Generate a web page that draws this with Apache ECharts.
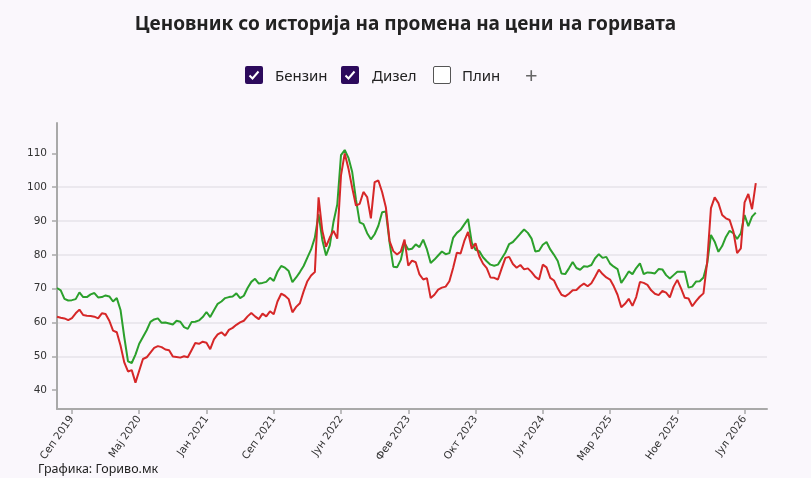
<!DOCTYPE html>
<html>
<head>
<meta charset="utf-8">
<title>Ценовник со историја на промена на цени на горивата</title>
<script src="https://cdn.jsdelivr.net/npm/echarts@6/dist/echarts.min.js"></script>
<style>
  html, body { margin: 0; padding: 0; background: #faf7fc; }
  #wrap { position: relative; width: 811px; height: 478px; overflow: hidden; }
  #chart { position: absolute; left: 0; top: 0; width: 811px; height: 478px; }
  .lg { position: absolute; font-family: 'Noto Sans', sans-serif; font-size: 15px; color: #222; line-height: 18px; cursor: pointer; user-select: none; }
  .box { position: absolute; top: 66px; width: 18px; height: 18px; box-sizing: border-box; border-radius: 2px; cursor: pointer; }
  .box.on { background: #2c0a5c; border: 2px solid #2c0a5c; }
  .box.off { background: #fff; border: 1.5px solid #555; }
  .box svg { display: block; }
</style>
</head>
<body>
<div id="wrap">
  <div id="chart"></div>
  <div class="box on" data-name="Бензин" style="left:245px"><svg width="14" height="14" viewBox="0 0 14 14"><polyline points="2.5,7.5 5.5,10.5 11.5,3.5" fill="none" stroke="#fff" stroke-width="2"/></svg></div>
  <div class="lg" data-name="Бензин" style="left:275px; top:66px">Бензин</div>
  <div class="box on" data-name="Дизел" style="left:341px"><svg width="14" height="14" viewBox="0 0 14 14"><polyline points="2.5,7.5 5.5,10.5 11.5,3.5" fill="none" stroke="#fff" stroke-width="2"/></svg></div>
  <div class="lg" data-name="Дизел" style="left:372px; top:66px">Дизел</div>
  <div class="box off" style="left:433px"></div>
  <div class="lg" style="left:462px; top:66px">Плин</div>
  <div class="lg" style="left:525px; top:63px; font-size:22px; color:#666; line-height:22px">+</div>
</div>
<script>
// оски
const tickLabels = ['Сеп 2019', 'Мај 2020', 'Јан 2021', 'Сеп 2021', 'Јун 2022', 'Фев 2023', 'Окт 2023', 'Јун 2024', 'Мар 2025', 'Ное 2025', 'Јул 2026']
const firstTick = 4
const tickStep = 18
const slotCount = 191
const yTicks = [40, 50, 60, 70, 80, 90, 100, 110]

// цени (ден/л)
const benzin = [
  70.2, 69.5, 67.0, 66.5, 66.6, 66.9, 68.9, 67.5, 67.5, 68.3,
  68.7, 67.4, 67.5, 68.0, 67.7, 66.2, 67.2, 63.7, 55.7, 48.5,
  48.0, 50.5, 53.7, 55.7, 57.7, 60.2, 60.9, 61.2, 59.9, 60.0,
  59.7, 59.4, 60.5, 60.2, 58.6, 58.1, 60.1, 60.2, 60.6, 61.6,
  63.1, 61.6, 63.6, 65.5, 66.2, 67.2, 67.5, 67.7, 68.6, 67.2,
  67.9, 70.2, 72.0, 72.9, 71.5, 71.7, 72.0, 73.2, 72.3, 75.0,
  76.7, 76.2, 75.2, 71.9, 73.3, 74.9, 76.7, 79.2, 81.6, 85.1,
  92.0, 84.4, 79.8, 82.8, 89.8, 94.9, 109.5, 111.0, 108.7, 104.5,
  96.4, 89.6, 89.1, 86.4, 84.6, 86.1, 88.6, 92.6, 92.8, 83.6,
  76.5, 76.3, 78.5, 83.5, 81.6, 81.8, 83.1, 82.3, 84.5, 81.6,
  77.6, 78.6, 79.8, 81.0, 80.2, 80.5, 85.0, 86.5, 87.4, 89.0,
  90.6, 83.6, 81.5, 81.1, 79.3, 78.1, 77.1, 76.8, 77.1, 78.9,
  80.7, 83.2, 83.8, 85.0, 86.3, 87.5, 86.5, 84.8, 81.0, 81.2,
  83.0, 83.8, 81.6, 80.0, 78.2, 74.5, 74.3, 76.0, 77.9, 76.1,
  75.6, 76.6, 76.5, 77.0, 79.0, 80.2, 79.1, 79.4, 77.4, 76.5,
  75.8, 71.7, 73.3, 75.1, 74.3, 76.1, 77.5, 74.3, 74.8, 74.7,
  74.5, 75.8, 75.7, 74.0, 73.0, 74.0, 75.0, 75.0, 75.0, 70.3,
  70.6, 72.1, 72.2, 73.3, 77.5, 85.9, 83.9, 80.9, 82.6, 85.3,
  87.1, 86.4, 84.7, 86.4, 91.8, 88.5, 91.3, 92.5,
]
const dizel = [
  61.7, 61.4, 61.2, 60.7, 61.3, 62.7, 63.8, 62.2, 62.0, 61.9,
  61.7, 61.2, 62.7, 62.5, 60.5, 57.6, 57.1, 53.2, 48.2, 45.5,
  45.9, 42.2, 45.7, 49.2, 49.7, 51.1, 52.5, 53.0, 52.7, 52.0,
  51.8, 49.9, 49.8, 49.6, 50.0, 49.7, 51.8, 53.9, 53.7, 54.3,
  54.0, 52.1, 55.0, 56.5, 57.1, 56.1, 57.8, 58.4, 59.3, 60.0,
  60.5, 61.8, 62.8, 61.8, 61.0, 62.6, 61.8, 63.3, 62.4, 66.2,
  68.5, 67.9, 66.9, 63.0, 64.6, 65.7, 69.2, 72.2, 73.9, 74.9,
  97.0, 87.1, 82.4, 85.1, 87.1, 84.8, 103.5, 110.0, 105.5, 99.8,
  94.6, 95.1, 98.6, 97.1, 90.8, 101.5, 102.0, 98.6, 94.1, 84.1,
  81.1, 80.1, 81.0, 84.5, 76.8, 78.3, 77.8, 74.2, 72.7, 73.1,
  67.2, 68.2, 69.7, 70.3, 70.6, 72.2, 76.1, 80.6, 80.4, 84.1,
  86.8, 81.8, 83.4, 79.6, 77.4, 76.1, 73.3, 73.2, 72.7, 76.0,
  79.1, 79.4, 77.3, 76.2, 77.0, 75.7, 76.0, 74.9, 73.5, 72.7,
  77.1, 76.3, 73.2, 72.4, 70.1, 68.2, 67.7, 68.5, 69.5, 69.6,
  70.7, 71.5, 70.7, 71.6, 73.5, 75.6, 74.3, 73.3, 72.7, 70.7,
  68.2, 64.5, 65.5, 67.0, 64.9, 67.5, 72.0, 71.7, 71.1, 69.5,
  68.5, 68.1, 69.3, 68.8, 67.4, 70.6, 72.6, 70.1, 67.3, 67.1,
  64.8, 66.3, 67.6, 68.6, 78.0, 93.8, 97.0, 95.3, 91.8, 90.8,
  90.3, 86.9, 80.5, 81.9, 95.5, 98.0, 93.5, 101.2,
]

const slots = Array.from({ length: slotCount }, (_, i) => i)
const isTick = i => i >= firstTick && (i - firstTick) % tickStep === 0

const font = "'DejaVu Sans', Verdana, sans-serif"
const chart = echarts.init(document.getElementById('chart'), null, { renderer: 'canvas' })

chart.setOption({
  backgroundColor: '#faf7fc',
  animation: false,
  title: {
    text: 'Ценовник со историја на промена на цени на горивата',
    left: 'center',
    top: 10,
    textStyle: { fontFamily: 'Noto Sans', fontSize: 19, fontWeight: 'bold', color: '#222' },
  },
  legend: { show: false, data: ['Бензин', 'Дизел'] },
  graphic: [
    {
      type: 'text',
      left: 38,
      top: 463,
      style: { text: 'Графика: Гориво.мк', fontFamily: 'Noto Sans', fontSize: 12.5, fill: '#222' },
    },
  ],
  grid: { left: 57, right: 44, top: 123, bottom: 69, containLabel: false },
  xAxis: {
    type: 'category',
    boundaryGap: false,
    data: slots,
    axisLine: { lineStyle: { color: '#a9a9a9', width: 2 } },
    axisTick: { interval: i => isTick(i), length: 5, lineStyle: { color: '#a9a9a9', width: 1.5 } },
    axisLabel: {
      interval: i => isTick(i),
      formatter: (v, i) => tickLabels[(i - firstTick) / tickStep] || '',
      rotate: 55,
      margin: 8,
      fontFamily: font,
      fontSize: 10.5,
      color: '#333',
    },
    splitLine: { show: false },
  },
  yAxis: {
    type: 'value',
    min: 34.4,
    max: 119,
    axisLine: { show: true, lineStyle: { color: '#a9a9a9', width: 2 } },
    axisTick: { show: true, customValues: yTicks, length: 5, lineStyle: { color: '#a9a9a9', width: 1.5 } },
    axisLabel: { customValues: yTicks, margin: 10, fontFamily: font, fontSize: 10.5, color: '#333' },
    splitLine: { show: true, showMinLine: false, showMaxLine: false, lineStyle: { color: '#e6e3ea', width: 1.5 } },
  },
  series: [
    {
      name: 'Бензин',
      type: 'line',
      data: benzin,
      showSymbol: false,
      lineStyle: { color: '#2ca02c', width: 2 },
      itemStyle: { color: '#2ca02c' },
    },
    {
      name: 'Дизел',
      type: 'line',
      data: dizel,
      showSymbol: false,
      lineStyle: { color: '#d62728', width: 2 },
      itemStyle: { color: '#d62728' },
      z: 3,
    },
  ],
})

// чекбокси
document.querySelectorAll('[data-name]').forEach(el => {
  el.addEventListener('click', () => {
    const name = el.dataset.name
    chart.dispatchAction({ type: 'legendToggleSelect', name })
    const box = document.querySelector('.box[data-name="' + name + '"]')
    const on = box.classList.toggle('on')
    box.classList.toggle('off', !on)
    box.querySelector('svg').style.display = on ? 'block' : 'none'
  })
})
</script>
</body>
</html>
